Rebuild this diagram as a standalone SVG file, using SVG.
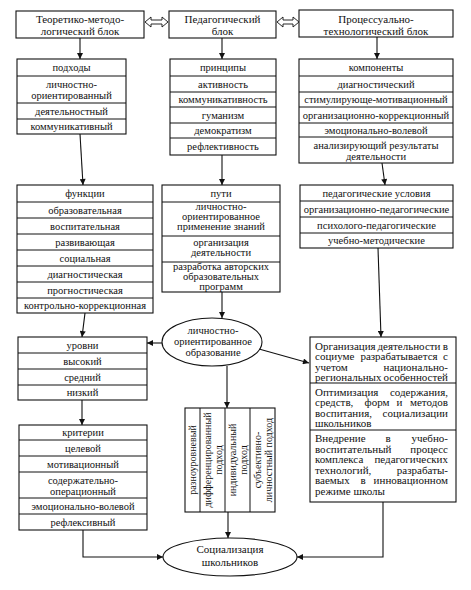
<svg xmlns="http://www.w3.org/2000/svg" width="471" height="590" viewBox="0 0 471 590">
<style>
.b{fill:#fff;stroke:#111;stroke-width:1.1}
.d{stroke:#111;stroke-width:1;fill:none}
text{font-family:"Liberation Serif","Times New Roman",serif;font-size:10.5px;fill:#111;text-anchor:middle}
.h{font-size:11px}
.j{text-anchor:start;font-size:11px}
.e{text-anchor:end;font-size:11px}
.m{text-anchor:middle;font-size:11px}
.v{font-size:10px}
.c{fill:none;stroke:#111;stroke-width:1.1}
.da{fill:#fff;stroke:#111;stroke-width:0.9}
</style>
<defs>
<marker id="a" viewBox="0 0 10 10" refX="10" refY="5" markerWidth="7" markerHeight="6" orient="auto" markerUnits="userSpaceOnUse"><path d="M0,0 L10,5 L0,10 z" fill="#111"/></marker>
</defs>
<rect width="471" height="590" fill="#fff"/>

<g id="theory">
<rect class="b" x="16" y="11" width="128" height="27"/>
<text class="h" x="80" y="23">Теоретико-методо-</text>
<text class="h" x="80" y="34.5">логический блок</text>
</g>
<g id="pedagog">
<rect class="b" x="169" y="11" width="107" height="27"/>
<text class="h" x="222.5" y="23">Педагогический</text>
<text class="h" x="222.5" y="34.5">блок</text>
</g>
<g id="process">
<rect class="b" x="299" y="10" width="154" height="27"/>
<text class="h" x="376" y="23">Процессуально-</text>
<text class="h" x="376" y="34.5">технологический блок</text>
</g>

<g id="approaches">
<rect class="b" x="17" y="59" width="109" height="75"/>
<path class="d" d="M17,76H126M17,103H126M17,119H126"/>
<text x="71.5" y="71">подходы</text>
<text x="71.5" y="87.5">личностно-</text>
<text x="71.5" y="99">ориентированный</text>
<text x="71.5" y="115">деятельностный</text>
<text x="71.5" y="130">коммуникативный</text>
</g>

<g id="principles">
<rect class="b" x="170" y="59" width="106" height="96"/>
<path class="d" d="M170,76H276M170,92H276M170,107H276M170,123H276M170,138H276"/>
<text x="223" y="71">принципы</text>
<text x="223" y="88">активность</text>
<text x="223" y="103">коммуникативность</text>
<text x="223" y="119">гуманизм</text>
<text x="223" y="134">демократизм</text>
<text x="223" y="150">рефлективность</text>
</g>

<g id="components">
<rect class="b" x="299" y="59" width="154" height="104"/>
<path class="d" d="M299,76H453M299,92H453M299,107H453M299,123H453M299,137H453"/>
<text x="376" y="71">компоненты</text>
<text x="376" y="88">диагностический</text>
<text x="376" y="103">стимулирующе-мотивационный</text>
<text x="376" y="119">организационно-коррекционный</text>
<text x="376" y="134">эмоционально-волевой</text>
<text x="376" y="149">анализирующий результаты</text>
<text x="376" y="160">деятельности</text>
</g>

<g id="functions">
<rect class="b" x="17" y="185" width="136" height="128"/>
<path class="d" d="M17,202H153M17,218H153M17,234H153M17,250H153M17,266H153M17,282H153M17,298H153"/>
<text x="85" y="197">функции</text>
<text x="85" y="214">образовательная</text>
<text x="85" y="230">воспитательная</text>
<text x="85" y="246">развивающая</text>
<text x="85" y="262">социальная</text>
<text x="85" y="278">диагностическая</text>
<text x="85" y="294">прогностическая</text>
<text x="85" y="309">контрольно-коррекционная</text>
</g>

<g id="ways">
<rect class="b" x="162" y="185" width="118" height="107"/>
<path class="d" d="M162,202H280M162,236H280M162,262H280"/>
<text x="221" y="197">пути</text>
<text x="221" y="210">личностно-</text>
<text x="221" y="220">ориентированное</text>
<text x="221" y="230">применение знаний</text>
<text x="221" y="245.5">организация</text>
<text x="221" y="255.5">деятельности</text>
<text x="221" y="270">разработка авторских</text>
<text x="221" y="280">образовательных</text>
<text x="221" y="289.5">программ</text>
</g>

<g id="conditions">
<rect class="b" x="300" y="185" width="153" height="63"/>
<path class="d" d="M300,201H453M300,217H453M300,233H453"/>
<text x="376.5" y="197">педагогические условия</text>
<text x="376.5" y="213">организационно-педагогические</text>
<text x="376.5" y="229">психолого-педагогические</text>
<text x="376.5" y="244">учебно-методические</text>
</g>

<g id="lpo">
<ellipse class="b" cx="212" cy="342" rx="50" ry="24"/>
<text x="213" y="334">личностно-</text>
<text x="213" y="345">ориентированное</text>
<text x="213" y="356">образование</text>
</g>

<g id="levels">
<rect class="b" x="18" y="337" width="129" height="63"/>
<path class="d" d="M18,353H147M18,369H147M18,385H147"/>
<text x="82.5" y="349">уровни</text>
<text x="82.5" y="365">высокий</text>
<text x="82.5" y="381">средний</text>
<text x="82.5" y="396">низкий</text>
</g>

<g id="criteria">
<rect class="b" x="19" y="425" width="128" height="105"/>
<path class="d" d="M19,440H147M19,456H147M19,472H147M19,498H147M19,514H147"/>
<text x="83" y="436">критерии</text>
<text x="83" y="452">целевой</text>
<text x="83" y="468">мотивационный</text>
<text x="83" y="483.5">содержательно-</text>
<text x="83" y="495">операционный</text>
<text x="83" y="510">эмоционально-волевой</text>
<text x="83" y="526">рефлексивный</text>
</g>

<g id="approaches-vertical">
<rect class="b" x="185" y="408" width="90" height="104"/>
<path class="d" d="M200,408V512M225,408V512M250,408V512"/>
<text class="v" transform="translate(196,460) rotate(-90)">разноуровневый</text>
<text class="v" transform="translate(210.5,460) rotate(-90)">дифференцированный</text>
<text class="v" transform="translate(221.5,460) rotate(-90)">подход</text>
<text class="v" transform="translate(235.5,460) rotate(-90)">индивидуальный</text>
<text class="v" transform="translate(246.5,460) rotate(-90)">подход</text>
<text class="v" transform="translate(260.5,460) rotate(-90)">субъективно-</text>
<text class="v" transform="translate(271.5,460) rotate(-90)">личностный подход</text>
</g>

<g id="measures">
<rect class="b" x="310" y="337" width="146" height="165"/>
<path class="d" d="M310,383H456M310,430H456"/>
<text class="j" x="315" y="349.5">Организация</text><text class="m" x="409" y="349.5">деятельности</text><text class="e" x="448" y="349.5">в</text>
<text class="j" x="315" y="360">социуме</text><text class="m" x="399" y="360">разрабатывается</text><text class="e" x="448" y="360">с</text>
<text class="j" x="315" y="370.5">учетом</text><text class="e" x="448" y="370.5">национально-</text>
<text class="j" x="315" y="381">региональных</text><text class="e" x="448" y="381">особенностей</text>
<text class="j" x="315" y="395.5">Оптимизация</text><text class="e" x="448" y="395.5">содержания,</text>
<text class="j" x="315" y="406">средств,</text><text class="m" x="377" y="406">форм</text><text class="m" x="399.5" y="406">и</text><text class="e" x="448" y="406">методов</text>
<text class="j" x="315" y="416.5">воспитания,</text><text class="e" x="448" y="416.5">социализации</text>
<text class="j" x="315" y="427">школьников</text>
<text class="j" x="315" y="442">Внедрение</text><text class="m" x="388" y="442">в</text><text class="e" x="448" y="442">учебно-</text>
<text class="j" x="315" y="452.5">воспитательный</text><text class="e" x="448" y="452.5">процесс</text>
<text class="j" x="315" y="463">комплекса</text><text class="e" x="448" y="463">педагогических</text>
<text class="j" x="315" y="473.5">технологий,</text><text class="e" x="448" y="473.5">разрабаты-</text>
<text class="j" x="315" y="484">ваемых</text><text class="m" x="363" y="484">в</text><text class="e" x="448" y="484">инновационном</text>
<text class="j" x="315" y="494.5">режиме школы</text>
</g>

<g id="socialization">
<ellipse class="b" cx="230" cy="557" rx="67" ry="19"/>
<text class="h" x="230" y="553">Социализация</text>
<text class="h" x="230" y="566">школьников</text>
</g>

<g id="connectors">
<polygon class="da" points="145,22 151,17 151,20 162,20 162,17 168,22 162,27 162,24 151,24 151,27"/>
<polygon class="da" points="277,22 283,17 283,20 293,20 293,17 299,22 293,27 293,24 283,24 283,27"/>
<path class="c" d="M80,38V59" marker-end="url(#a)"/>
<path class="c" d="M222,38V59" marker-end="url(#a)"/>
<path class="c" d="M377,37V59" marker-end="url(#a)"/>
<path class="c" d="M80,134L83,185" marker-end="url(#a)"/>
<path class="c" d="M222,155V185" marker-end="url(#a)"/>
<path class="c" d="M382,163L385,185" marker-end="url(#a)"/>
<path class="c" d="M85,313L82,337" marker-end="url(#a)"/>
<path class="c" d="M222,292V318" marker-end="url(#a)"/>
<path class="c" d="M378,248L381,337" marker-end="url(#a)"/>
<path class="c" d="M162,343H147" marker-end="url(#a)"/>
<path class="c" d="M259,349L309,363" marker-end="url(#a)"/>
<path class="c" d="M227,366V408" marker-end="url(#a)"/>
<path class="c" d="M82,400V425" marker-end="url(#a)"/>
<path class="c" d="M83,530V557H163" marker-end="url(#a)"/>
<path class="c" d="M228,512V538" marker-end="url(#a)"/>
<path class="c" d="M383,502V557H297" marker-end="url(#a)"/>
</g>
</svg>
